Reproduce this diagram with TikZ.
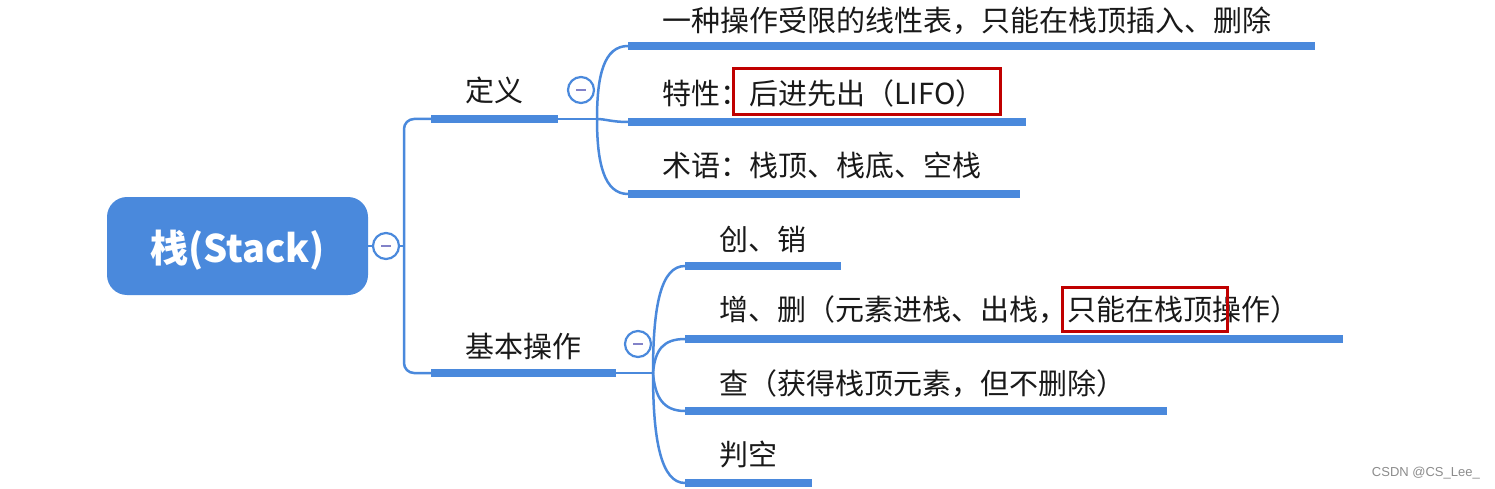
\documentclass[tikz,border=0pt]{standalone}
\usepackage{fontspec}
\setmainfont{Noto Sans CJK SC}
\newfontfamily\wmfont{Liberation Sans}
\definecolor{mblue}{RGB}{74,137,220}
\definecolor{hlred}{RGB}{192,0,0}
\definecolor{minuscol}{RGB}{130,130,200}
\begin{document}
\begin{tikzpicture}[x=1pt,y=-1pt,
  conn/.style={draw=mblue,line width=2.5pt},
  uline/.style={draw=mblue,line width=8pt},
  lbl/.style={anchor=base west,inner sep=0pt,font=\fontsize{29}{29}\selectfont,text=black!90},
  toggle/.style={circle,draw=mblue,fill=white,line width=2.2pt,minimum size=26pt,inner sep=0pt},
  minusbar/.style={draw=minuscol,line width=2.2pt},
  hl/.style={draw=hlred,line width=3pt}]
\useasboundingbox (0,0) rectangle (1495,489);
\fill[white] (0,0) rectangle (1495,489);

% root
\node[fill=mblue, rounded corners=20pt, minimum width=261pt, minimum height=98pt,
      inner sep=0pt, text height=33pt, text depth=0pt, text=white,
      font=\fontsize{38}{38}\selectfont\bfseries] (root) at (237.5,246) {栈(Stack)};
\node[toggle] (t0) at (386,246) {};

% coordinates
\coordinate (spine) at (404,246);
\coordinate (defS) at (431,119); \coordinate (defE) at (558,119); \coordinate (defB) at (597,119);
\coordinate (opsS) at (431,373); \coordinate (opsE) at (616,373); \coordinate (opsB) at (653,373);
\coordinate (d1S) at (628,46);  \coordinate (d1E) at (1315,46);
\coordinate (d2S) at (628,122); \coordinate (d2E) at (1026,122);
\coordinate (d3S) at (628,194); \coordinate (d3E) at (1020,194);
\coordinate (o1S) at (685,266); \coordinate (o1E) at (841,266);
\coordinate (o2S) at (685,339); \coordinate (o2E) at (1343,339);
\coordinate (o3S) at (685,411); \coordinate (o3E) at (1167,411);
\coordinate (o4S) at (685,483); \coordinate (o4E) at (812,483);

% connectors
\draw[conn] (root.east |- t0) -- (t0);
\draw[conn] (t0) -- (spine);
\draw[conn, rounded corners=10pt] (defS) -| (spine) |- (opsS);
\draw[conn] (defS) -- (defB);
\draw[conn] (opsS) -- (opsB);
\draw[conn] (defB) .. controls (597,75) and (604,46) .. (d1S);
\draw[conn] (defB) .. controls (605,119) and (612,122) .. (d2S);
\draw[conn] (defB) .. controls (597,163) and (604,194) .. (d3S);
\draw[conn] (opsB) .. controls (653,305) and (661,266) .. (o1S);
\draw[conn] (opsB) .. controls (655,350) and (663,339) .. (o2S);
\draw[conn] (opsB) .. controls (655,397) and (663,411) .. (o3S);
\draw[conn] (opsB) .. controls (653,440) and (661,483) .. (o4S);

% underlines
\draw[uline] (defS) -- (defE);
\draw[uline] (opsS) -- (opsE);
\draw[uline] (d1S) -- (d1E);
\draw[uline] (d2S) -- (d2E);
\draw[uline] (d3S) -- (d3E);
\draw[uline] (o1S) -- (o1E);
\draw[uline] (o2S) -- (o2E);
\draw[uline] (o3S) -- (o3E);
\draw[uline] (o4S) -- (o4E);

% toggles
\node[toggle] (tdef) at (581,90) {};
\node[toggle] (tops) at (638,344) {};
\foreach \t in {t0,tdef,tops}
  \draw[minusbar] ([xshift=-5pt]\t.center) -- ([xshift=5pt]\t.center);

% labels
\node[lbl] (def) at (465,102) {定义};
\node[lbl] (ops) at (465,357) {基本操作};
\node[lbl] (l1) at (662,32) {一种操作受限的线性表，只能在栈顶插入、删除};
\node[lbl] (l2) at (662,105) {特性：后进先出（LIFO）};
\node[lbl] (l3) at (662,176) {术语：栈顶、栈底、空栈};
\node[lbl] (m1) at (719,250) {创、销};
\node[lbl] (m2) at (719,320) {增、删（元素进栈、出栈，只能在栈顶操作）};
\node[lbl] (m3) at (719,394) {查（获得栈顶元素，但不删除）};
\node[lbl] (m4) at (719,465) {判空};

% highlights
\draw[hl] (733,69) rectangle (1000,115);
\draw[hl] (1062,287) rectangle (1227,331);

% watermark
\node[font=\wmfont\fontsize{13}{13}\selectfont, text=black!45, anchor=east, inner sep=0pt] (wm) at (1480,473) {CSDN @CS\_Lee\_};
\end{tikzpicture}
\end{document}
